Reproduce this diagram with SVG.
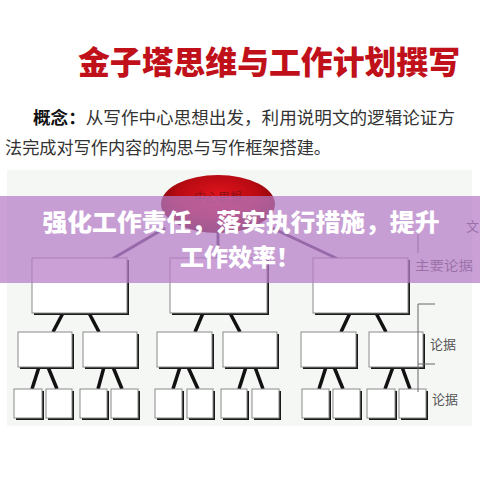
<svg xmlns="http://www.w3.org/2000/svg" width="480" height="480" viewBox="0 0 480 480">
<defs>
<radialGradient id="eg" cx="0.5" cy="0.35" r="0.6">
<stop offset="0" stop-color="#e0141e"/>
<stop offset="0.6" stop-color="#b80a12"/>
<stop offset="1" stop-color="#6e0508"/>
</radialGradient>
<style>
.box{fill:#fff;stroke:#8a8a8a;stroke-width:1}
.sh{fill:#1a1a1a}
.con{stroke:#111;stroke-width:3.5;stroke-linecap:butt}
.top{stroke:#4a3a5a;stroke-width:3}
.note{font-family:"Noto Sans CJK SC",sans-serif;font-size:13px;fill:#555}
.brk{stroke:#666;stroke-width:1;fill:none}
</style>
</defs>
<rect width="480" height="480" fill="#fff"/>
<text x="269" y="74" text-anchor="middle" font-family="Noto Sans CJK SC, sans-serif" font-size="32" font-weight="900" fill="#c0101a" textLength="382" lengthAdjust="spacingAndGlyphs">金子塔思维与工作计划撰写</text>
<text x="33" y="124" font-family="Noto Sans CJK SC, sans-serif" font-size="17" fill="#333" textLength="422" lengthAdjust="spacingAndGlyphs"><tspan font-weight="bold" fill="#111">概念：</tspan>从写作中心思想出发，利用说明文的逻辑论证方</text>
<text x="5" y="154" font-family="Noto Sans CJK SC, sans-serif" font-size="17" fill="#333" textLength="326" lengthAdjust="spacingAndGlyphs">法完成对写作内容的构思与写作框架搭建。</text>
<rect x="7" y="170" width="465" height="256" fill="#f5f7f5"/>
<g id="connectors">
<line class="top" x1="165" y1="228" x2="112" y2="259"/>
<line class="top" x1="218" y1="232" x2="218" y2="259"/>
<line class="top" x1="272" y1="228" x2="338" y2="259"/>
<line class="con" x1="63" y1="313" x2="53" y2="332"/>
<line class="con" x1="89" y1="313" x2="99" y2="332"/>
<line class="con" x1="203" y1="313" x2="195" y2="332"/>
<line class="con" x1="230" y1="313" x2="240" y2="332"/>
<line class="con" x1="350" y1="313" x2="341" y2="332"/>
<line class="con" x1="376" y1="313" x2="386" y2="332"/>
<line class="con" x1="39" y1="367" x2="32" y2="389"/>
<line class="con" x1="48" y1="367" x2="57" y2="389"/>
<line class="con" x1="104" y1="367" x2="98" y2="389"/>
<line class="con" x1="113" y1="367" x2="122" y2="389"/>
<line class="con" x1="180" y1="367" x2="173" y2="389"/>
<line class="con" x1="188" y1="367" x2="198" y2="389"/>
<line class="con" x1="246" y1="367" x2="239" y2="389"/>
<line class="con" x1="255" y1="367" x2="263" y2="389"/>
<line class="con" x1="326" y1="367" x2="319" y2="389"/>
<line class="con" x1="334" y1="367" x2="343" y2="389"/>
<line class="con" x1="393" y1="367" x2="385" y2="389"/>
<line class="con" x1="402" y1="367" x2="410" y2="389"/>
</g>
<g id="center">
<ellipse cx="218" cy="204" rx="57" ry="29" fill="url(#eg)"/>
<text x="218" y="202" text-anchor="middle" font-family="Noto Sans CJK SC, sans-serif" font-size="12" fill="#8a1015">中心思想</text>
</g>
<g id="l1a"><rect class="sh" x="34" y="260" width="95" height="55"/><rect class="box" x="32" y="258" width="95" height="55"/></g>
<g id="l1b"><rect class="sh" x="172" y="260" width="97" height="55"/><rect class="box" x="170" y="258" width="97" height="55"/></g>
<g id="l1c"><rect class="sh" x="315" y="260" width="95" height="55"/><rect class="box" x="313" y="258" width="95" height="55"/></g>
<g id="l2a"><rect class="sh" x="20" y="334" width="54" height="35"/><rect class="box" x="18" y="332" width="54" height="35"/></g>
<g id="l2b"><rect class="sh" x="85" y="334" width="54" height="35"/><rect class="box" x="83" y="332" width="54" height="35"/></g>
<g id="l2c"><rect class="sh" x="159" y="334" width="55" height="35"/><rect class="box" x="157" y="332" width="55" height="35"/></g>
<g id="l2d"><rect class="sh" x="225" y="334" width="54" height="35"/><rect class="box" x="223" y="332" width="54" height="35"/></g>
<g id="l2e"><rect class="sh" x="303" y="334" width="55" height="35"/><rect class="box" x="301" y="332" width="55" height="35"/></g>
<g id="l2f"><rect class="sh" x="371" y="334" width="54" height="35"/><rect class="box" x="369" y="332" width="54" height="35"/></g>
<g id="l3a"><rect class="sh" x="16" y="391" width="28" height="29"/><rect class="box" x="14" y="389" width="28" height="29"/></g>
<g id="l3b"><rect class="sh" x="48" y="391" width="26" height="29"/><rect class="box" x="46" y="389" width="26" height="29"/></g>
<g id="l3c"><rect class="sh" x="82" y="391" width="27" height="29"/><rect class="box" x="80" y="389" width="27" height="29"/></g>
<g id="l3d"><rect class="sh" x="113" y="391" width="27" height="29"/><rect class="box" x="111" y="389" width="27" height="29"/></g>
<g id="l3e"><rect class="sh" x="157" y="391" width="27" height="29"/><rect class="box" x="155" y="389" width="27" height="29"/></g>
<g id="l3f"><rect class="sh" x="189" y="391" width="26" height="29"/><rect class="box" x="187" y="389" width="26" height="29"/></g>
<g id="l3g"><rect class="sh" x="223" y="391" width="26" height="29"/><rect class="box" x="221" y="389" width="26" height="29"/></g>
<g id="l3h"><rect class="sh" x="254" y="391" width="27" height="29"/><rect class="box" x="252" y="389" width="27" height="29"/></g>
<g id="l3i"><rect class="sh" x="304" y="391" width="27" height="29"/><rect class="box" x="302" y="389" width="27" height="29"/></g>
<g id="l3j"><rect class="sh" x="335" y="391" width="27" height="29"/><rect class="box" x="333" y="389" width="27" height="29"/></g>
<g id="l3k"><rect class="sh" x="369" y="391" width="28" height="29"/><rect class="box" x="367" y="389" width="28" height="29"/></g>
<g id="l3l"><rect class="sh" x="401" y="391" width="27" height="29"/><rect class="box" x="399" y="389" width="27" height="29"/></g>
<g id="notes">
<text class="note" x="466" y="231">文</text>
<line class="brk" x1="418" y1="230" x2="418" y2="253"/>
<text class="note" x="415" y="270" textLength="58" lengthAdjust="spacingAndGlyphs">主要论据</text>
<polyline class="brk" points="435,304 418,304 418,392"/>
<line class="brk" x1="418" y1="364" x2="435" y2="364"/>
<text class="note" x="430" y="349" fill="#444">论据</text>
<text class="note" x="432" y="404" fill="#444">论据</text>
</g>
<rect x="0" y="196" width="480" height="87" fill="#b57cc8" opacity="0.72"/>
<g font-family="Noto Sans CJK SC, sans-serif" font-weight="900" font-size="24" fill="#fff" text-anchor="middle">
<text x="241" y="231" textLength="397" lengthAdjust="spacingAndGlyphs">强化工作责任，落实执行措施，提升</text>
<text x="240" y="266">工作效率！</text>
</g>
</svg>
